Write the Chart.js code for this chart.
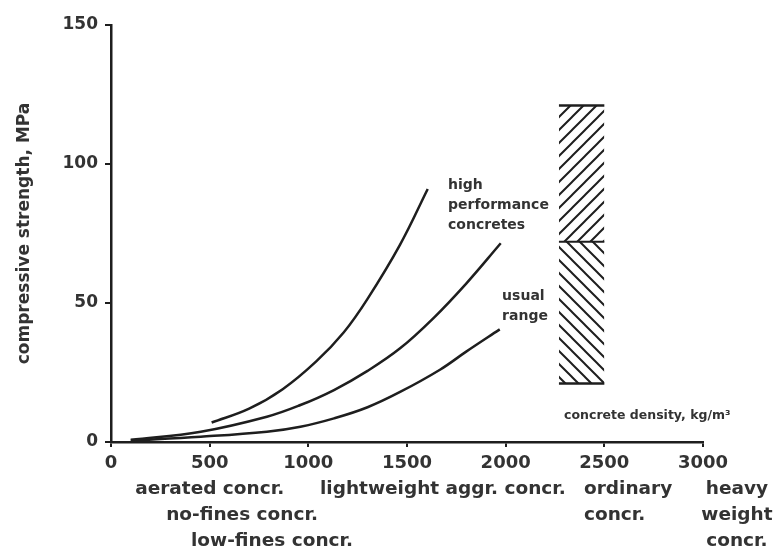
<!DOCTYPE html>
<html>
<head>
<meta charset="utf-8">
<script src="https://cdn.jsdelivr.net/npm/chart.js@4.4.0/dist/chart.umd.min.js"></script>
<style>
  html, body { margin: 0; padding: 0; background: #fff; }
  #wrap { width: 778px; height: 547px; }
</style>
</head>
<body>
<div id="wrap"><canvas id="strengthChart"></canvas></div>
<script>
// Compressive strength vs concrete density
const xTicks = [0, 500, 1000, 1500, 2000, 2500, 3000];
const yTicks = [0, 50, 100, 150];

// curves (density kg/m3, strength MPa)
const hpDensity  = [510, 700, 870, 1040, 1180, 1300, 1465, 1605];
const hpStrength = [7, 12, 19, 29, 39.5, 51.5, 71, 91];

const midDensity  = [100, 455, 790, 960, 1130, 1300, 1465, 1633, 1800, 1975];
const midStrength = [0.8, 3.7, 9.1, 13.3, 18.7, 25.6, 33.7, 44.5, 57, 71.5];

const lowDensity  = [100, 455, 790, 960, 1130, 1300, 1465, 1667, 1800, 1970];
const lowStrength = [0.5, 1.9, 3.7, 5.5, 8.5, 12.5, 18, 26, 32.5, 40.5];

// ordinary concrete band (hatched box)
const bandDensity  = [2270, 2500];
const bandStrength = [21, 72, 121]; // bottom, middle, top

// texts
const groupNames = [['aerated concr.'], ['no-fines concr.'], ['low-fines concr.'],
                    ['lightweight aggr. concr.'], ['ordinary', 'concr.'], ['heavy', 'weight', 'concr.']];
const groupDensity = [500, 664, 816, 1682, 2397, 3172];
const groupRow = [0, 1, 2, 0, 0, 0];
const groupAlign = ['center', 'center', 'center', 'center', 'left', 'center'];

const curveNotes = [
  { lines: ['high', 'performance', 'concretes'], x: 1708, y: 91 },
  { lines: ['usual', 'range'], x: 1982, y: 51.2 },
  { lines: ['concrete density, kg/m\u00b3'], x: 2296, y: 8.3 }
];

const INK = '#1e1e1e';
const TEXT = '#333';

function pts(xs, ys) {
  return xs.map((x, i) => ({ x: x, y: ys[i] }));
}

function hatch(dir) {
  const s = 13;
  const c = document.createElement('canvas');
  c.width = c.height = s;
  const g = c.getContext('2d');
  g.strokeStyle = INK;
  g.lineWidth = 2;
  g.beginPath();
  if (dir > 0) {
    g.moveTo(0, s); g.lineTo(s, 0);
    g.moveTo(-2, 2); g.lineTo(2, -2);
    g.moveTo(s - 2, s + 2); g.lineTo(s + 2, s - 2);
  } else {
    g.moveTo(0, 0); g.lineTo(s, s);
    g.moveTo(s - 2, -2); g.lineTo(s + 2, 2);
    g.moveTo(-2, s - 2); g.lineTo(2, s + 2);
  }
  g.stroke();
  return g.createPattern(c, 'repeat');
}

const curve = (data) => ({
  data: data,
  borderColor: INK,
  borderWidth: 2.5,
  pointRadius: 0,
  tension: 0.4,
  fill: false
});

const notesPlugin = {
  id: 'notes',
  afterDraw(chart) {
    const { ctx, scales: { x, y } } = chart;
    ctx.save();
    ctx.fillStyle = TEXT;
    ctx.textBaseline = 'alphabetic';

    // annotations inside the plot
    curveNotes.forEach((n, k) => {
      ctx.font = k < 2 ? 'bold 14px "DejaVu Sans"' : 'bold 12.5px "DejaVu Sans"';
      ctx.textAlign = 'left';
      n.lines.forEach((t, i) => {
        ctx.fillText(t, x.getPixelForValue(n.x), y.getPixelForValue(n.y) + i * 20);
      });
    });

    // concrete kinds under the axis
    ctx.font = 'bold 18.5px "DejaVu Sans"';
    const base = chart.chartArea.bottom + 52;
    groupNames.forEach((lines, i) => {
      ctx.textAlign = groupAlign[i];
      lines.forEach((t, j) => {
        ctx.fillText(t, x.getPixelForValue(groupDensity[i]), base + (groupRow[i] + j) * 26);
      });
    });
    ctx.restore();
  }
};

new Chart(document.getElementById('strengthChart'), {
  type: 'line',
  data: {
    datasets: [
      curve(pts(hpDensity, hpStrength)),
      curve(pts(midDensity, midStrength)),
      curve(pts(lowDensity, lowStrength)),
      {
        data: pts(bandDensity, [bandStrength[1], bandStrength[1]]),
        borderColor: INK, borderWidth: 2, pointRadius: 0,
        backgroundColor: hatch(1), fill: { value: bandStrength[2] }
      },
      {
        data: pts(bandDensity, [bandStrength[1], bandStrength[1]]),
        borderColor: INK, borderWidth: 0, pointRadius: 0,
        backgroundColor: hatch(-1), fill: { value: bandStrength[0] }
      },
      {
        data: pts(bandDensity, [bandStrength[2], bandStrength[2]]),
        borderColor: INK, borderWidth: 2.5, pointRadius: 0, fill: false
      },
      {
        data: pts(bandDensity, [bandStrength[0], bandStrength[0]]),
        borderColor: INK, borderWidth: 2.5, pointRadius: 0, fill: false
      }
    ]
  },
  options: {
    responsive: true,
    maintainAspectRatio: false,
    animation: false,
    layout: { padding: { left: 0, right: 75, top: 25, bottom: 0 } },
    plugins: {
      legend: { display: false },
      tooltip: { enabled: false }
    },
    scales: {
      x: {
        type: 'linear',
        min: 0,
        max: 3000,
        afterBuildTicks: s => { s.ticks = xTicks.map(v => ({ value: v })); },
        afterFit: s => { s.height = 105; },
        border: { color: INK, width: 2.5 },
        grid: { drawOnChartArea: false, color: INK, lineWidth: 2, tickLength: 5 },
        ticks: {
          color: TEXT,
          padding: 6,
          maxRotation: 0,
          callback: v => String(v),
          font: { family: 'DejaVu Sans', size: 18, weight: 'bold' }
        }
      },
      y: {
        min: 0,
        max: 150,
        afterBuildTicks: s => { s.ticks = yTicks.map(v => ({ value: v })); },
        afterFit: s => { s.width = 111; },
        border: { color: INK, width: 2.5 },
        grid: { drawOnChartArea: false, color: INK, lineWidth: 2, tickLength: 6 },
        ticks: {
          color: TEXT,
          padding: 7,
          callback: v => String(v),
          font: { family: 'DejaVu Sans', size: 17, weight: 'bold' }
        },
        title: {
          display: true,
          text: 'compressive strength, MPa',
          color: TEXT,
          padding: { top: 14, bottom: 0 },
          font: { family: 'DejaVu Sans', size: 17, weight: 'bold' }
        }
      }
    }
  },
  plugins: [notesPlugin]
});
</script>
</body>
</html>
